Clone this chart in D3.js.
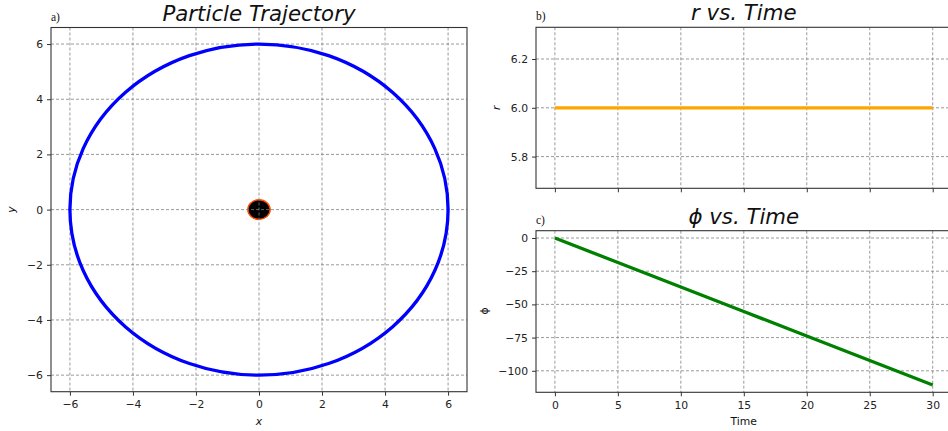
<!DOCTYPE html>
<html>
<head>
<meta charset="utf-8">
<style>
	body { margin: 0; background: #fff; }
	svg { display: block; font-family: "DejaVu Sans", sans-serif; }
	.tick text { font-family: "DejaVu Sans", sans-serif; font-size: 10.8px; fill: #222; }
	.tick line { stroke: #333; }
	.domain { display: none; }
</style>
<script src="https://d3js.org/d3.v7.min.js"></script>
</head>
<body>
<div id="chart"></div>
<script>
	// values
	const timeValues = [0, 5, 10, 15, 20, 25, 30];
	const rValues = [6, 6, 6, 6, 6, 6, 6];
	const phiValues = [0, -18.45, -36.9, -55.35, -73.8, -92.25, -110.7];
	const horizonRadius = 0.355;
	const xyTicks = [-6, -4, -2, 0, 2, 4, 6];
	const rTicks = [5.8, 6.0, 6.2];
	const phiTicks = [0, -25, -50, -75, -100];
	const timeTicks = [0, 5, 10, 15, 20, 25, 30];

	const W = 948, H = 431;
	const svg = d3.select('#chart').append('svg')
		.attr('width', W)
		.attr('height', H);

	// draws the frame, grid and ticks of one panel
	function panel(box, xs, ys, xt, yt, opts) {
		const g = svg.append('g');
		const clipId = 'clip' + opts.tag;
		svg.append('clipPath').attr('id', clipId)
			.append('rect')
			.attr('x', box.left).attr('y', box.top)
			.attr('width', box.right - box.left)
			.attr('height', box.bottom - box.top);

		const plot = g.append('g').attr('clip-path', 'url(#' + clipId + ')');
		const under = plot.append('g');
		const grid = plot.append('g')
			.attr('stroke', '#808080')
			.attr('stroke-width', 0.8)
			.attr('stroke-dasharray', '3,2');
		grid.selectAll('.vx').data(xt).enter().append('line')
			.attr('x1', d => xs(d)).attr('x2', d => xs(d))
			.attr('y1', box.top).attr('y2', box.bottom);
		grid.selectAll('.hy').data(yt).enter().append('line')
			.attr('y1', d => ys(d)).attr('y2', d => ys(d))
			.attr('x1', box.left).attr('x2', box.right);
		const over = plot.append('g');

		// axes
		g.append('g')
			.attr('transform', 'translate(0,' + box.bottom + ')')
			.call(d3.axisBottom(xs).tickValues(xt).tickSize(4).tickPadding(5)
				.tickFormat(opts.hideX ? '' : d3.format('')));
		g.append('g')
			.attr('transform', 'translate(' + box.left + ',0)')
			.call(d3.axisLeft(ys).tickValues(yt).tickSize(4).tickPadding(4)
				.tickFormat(opts.yFormat || d3.format('')));

		g.append('rect')
			.attr('x', box.left).attr('y', box.top)
			.attr('width', box.right - box.left)
			.attr('height', box.bottom - box.top)
			.attr('fill', 'none')
			.attr('stroke', '#333')
			.attr('stroke-width', 1.1);

		// title and panel letter
		g.append('text')
			.attr('x', (box.left + box.right) / 2)
			.attr('y', box.top - 7)
			.attr('text-anchor', 'middle')
			.attr('font-size', '21.3px')
			.attr('font-style', 'italic')
			.attr('fill', '#111')
			.text(opts.title);
		g.append('text')
			.attr('x', box.left)
			.attr('y', box.top - 7)
			.attr('font-family', '"Liberation Serif", serif')
			.attr('font-size', '11.5px')
			.attr('fill', '#111')
			.text(opts.letter);

		return { under: under, over: over };
	}

	function yLabel(x, y, txt, italic) {
		svg.append('text')
			.attr('transform', 'translate(' + x + ',' + y + ') rotate(-90)')
			.attr('text-anchor', 'middle')
			.attr('font-size', '10.8px')
			.attr('font-style', italic ? 'italic' : 'normal')
			.attr('fill', '#111')
			.text(txt);
	}
	function xLabel(x, y, txt, italic) {
		svg.append('text')
			.attr('x', x).attr('y', y)
			.attr('text-anchor', 'middle')
			.attr('font-size', '10.8px')
			.attr('font-style', italic ? 'italic' : 'normal')
			.attr('fill', '#111')
			.text(txt);
	}

	// a) particle trajectory
	const boxA = { left: 51, right: 467, top: 27.5, bottom: 391.7 };
	const xA = d3.scaleLinear().domain([-6.6, 6.6]).range([boxA.left, boxA.right]);
	const yA = d3.scaleLinear().domain([-6.6, 6.6]).range([boxA.bottom, boxA.top]);
	const pA = panel(boxA, xA, yA, xyTicks, xyTicks,
		{ tag: 'a', title: 'Particle Trajectory', letter: 'a)' });

	pA.under.append('ellipse')
		.attr('cx', xA(0)).attr('cy', yA(0))
		.attr('rx', xA(horizonRadius) - xA(0))
		.attr('ry', yA(0) - yA(horizonRadius))
		.attr('fill', '#000')
		.attr('stroke', '#ff4a00')
		.attr('stroke-width', 1.4);

	// orbit drawn from the r samples
	const orbitR = d3.mean(rValues);
	pA.over.append('ellipse')
		.attr('cx', xA(0)).attr('cy', yA(0))
		.attr('rx', xA(orbitR) - xA(0))
		.attr('ry', yA(0) - yA(orbitR))
		.attr('fill', 'none')
		.attr('stroke', '#0000ff')
		.attr('stroke-width', 3.3);

	xLabel(xA(0), 424.5, 'x', true);
	yLabel(15, yA(0), 'y', true);

	// b) r vs time
	const boxB = { left: 536, right: 951.6, top: 27.3, bottom: 188.3 };
	const xB = d3.scaleLinear().domain([-1.5, 31.5]).range([boxB.left, boxB.right]);
	const yB = d3.scaleLinear().domain([5.67, 6.33]).range([boxB.bottom, boxB.top]);
	const pB = panel(boxB, xB, yB, timeTicks, rTicks,
		{ tag: 'b', title: 'r vs. Time', letter: 'b)', hideX: true, yFormat: d3.format('.1f') });

	pB.over.append('path')
		.datum(timeValues.map((t, i) => [t, rValues[i]]))
		.attr('fill', 'none')
		.attr('stroke', '#ffa500')
		.attr('stroke-width', 3.3)
		.attr('d', d3.line().x(d => xB(d[0])).y(d => yB(d[1])));

	yLabel(500, yB(6), 'r', true);

	// c) phi vs time
	const boxC = { left: 536, right: 951.6, top: 230.7, bottom: 392.3 };
	const xC = d3.scaleLinear().domain([-1.5, 31.5]).range([boxC.left, boxC.right]);
	const yC = d3.scaleLinear().domain([-116.2, 5.5]).range([boxC.bottom, boxC.top]);
	const pC = panel(boxC, xC, yC, timeTicks, phiTicks,
		{ tag: 'c', title: 'ϕ vs. Time', letter: 'c)' });

	pC.over.append('path')
		.datum(timeValues.map((t, i) => [t, phiValues[i]]))
		.attr('fill', 'none')
		.attr('stroke', '#008000')
		.attr('stroke-width', 3.3)
		.attr('d', d3.line().x(d => xC(d[0])).y(d => yC(d[1])));

	xLabel(xC(15), 424.5, 'Time', false);
	yLabel(488, yC(-55), 'ϕ', false);
</script>
</body>
</html>
